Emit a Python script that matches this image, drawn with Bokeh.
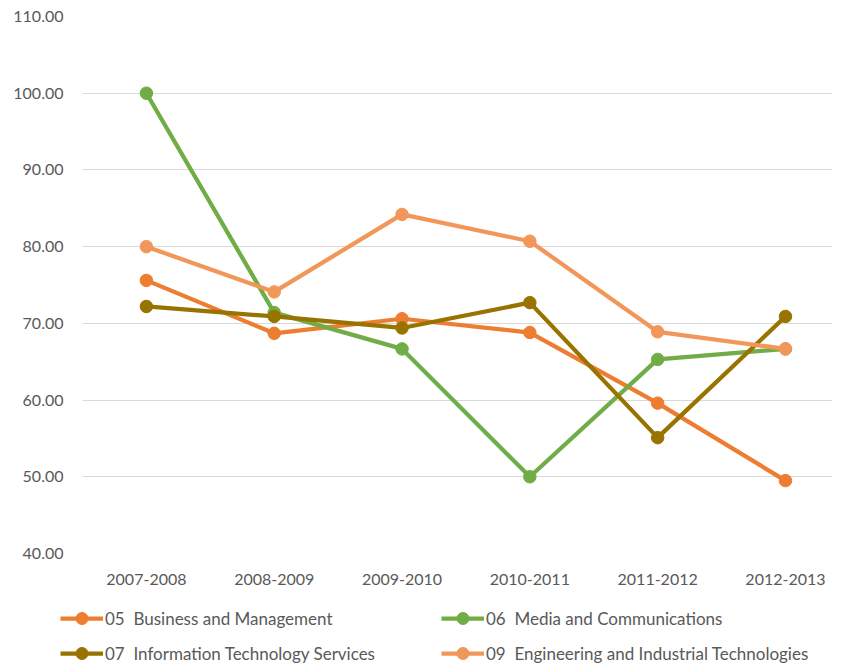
from bokeh.plotting import figure
from bokeh.layouts import column
from bokeh.models import Range1d, Legend, LegendItem, NumeralTickFormatter, FixedTicker
from bokeh.embed import file_html
from bokeh.resources import INLINE

years = ["2007-2008", "2008-2009", "2009-2010", "2010-2011", "2011-2012", "2012-2013"]
business = [75.6, 68.7, 70.6, 68.8, 59.6, 49.5]
media = [100.0, 71.4, 66.67, 50.0, 65.3, 66.67]
infotech = [72.2, 70.9, 69.4, 72.7, 55.1, 70.9]
engineering = [80.0, 74.1, 84.2, 80.7, 68.9, 66.67]

names = ["05  Business and Management", "06  Media and Communications",
         "07  Information Technology Services", "09  Engineering and Industrial Technologies"]
colors = ["#ED7D31", "#70AD47", "#997300", "#F1975A"]
series = [business, media, infotech, engineering]
y_ticks = [40, 50, 60, 70, 80, 90, 100, 110]

FONT = "Lato"
TXT = "#595959"
LW = 4.25
MS = 12.5

x = list(range(len(years)))

p = figure(width=832, height=588, output_backend="svg", toolbar_location=None,
           x_range=Range1d(-0.5, 5.368), y_range=Range1d(40, 110),
           min_border_left=82, min_border_right=0, min_border_top=16, min_border_bottom=35)
p.frame_align = False
p.outline_line_color = None
p.background_fill_color = "white"
p.border_fill_color = "white"

p.xgrid.grid_line_color = None
p.ygrid.grid_line_color = "#D9D9D9"
p.ygrid.grid_line_width = 1

p.yaxis.ticker = FixedTicker(ticks=y_ticks)
p.yaxis.formatter = NumeralTickFormatter(format="0.00")
p.xaxis.ticker = FixedTicker(ticks=x)
p.xaxis.major_label_overrides = {i: y for i, y in enumerate(years)}
for ax in (p.xaxis, p.yaxis):
    ax.axis_line_color = None
    ax.major_tick_line_color = None
    ax.minor_tick_line_color = None
    ax.major_label_text_font = FONT
    ax.major_label_text_font_size = "16px"
    ax.major_label_text_color = TXT
p.yaxis.major_label_standoff = 13
p.xaxis.major_label_standoff = 14

for col, vals in zip(colors, series):
    p.line(x, vals, line_color=col, line_width=LW)
    p.scatter(x, vals, size=MS, fill_color=col, line_color=col)

# legend panel
p2 = figure(width=832, height=78, output_backend="svg", toolbar_location=None,
            x_range=Range1d(0, 1), y_range=Range1d(0, 1),
            x_axis_location=None, y_axis_location=None, min_border=0)
p2.frame_align = False
p2.outline_line_color = None
p2.xgrid.grid_line_color = None
p2.ygrid.grid_line_color = None
nan = float("nan")
items = {}
for name, col in zip(names, colors):
    r1 = p2.line([nan], [nan], line_color=col, line_width=LW)
    r2 = p2.scatter([nan], [nan], size=MS, fill_color=col, line_color=col)
    items[name] = LegendItem(label=name, renderers=[r1, r2])

# column-major fill: col 1 = 05, 07 ; col 2 = 06, 09
order = [names[0], names[2], names[1], names[3]]
legend = Legend(items=[items[n] for n in order], ncols=2, location=(60, -2),
                label_text_font=FONT, label_text_font_size="17px", label_text_color=TXT,
                glyph_width=43, glyph_height=30, label_height=30, label_standoff=2,
                label_width=331, spacing=5, padding=0, margin=0,
                border_line_color=None, background_fill_alpha=0)
p2.add_layout(legend, "center")

layout = column(p, p2, spacing=0)
open("out.html", "w").write(file_html(layout, INLINE))
